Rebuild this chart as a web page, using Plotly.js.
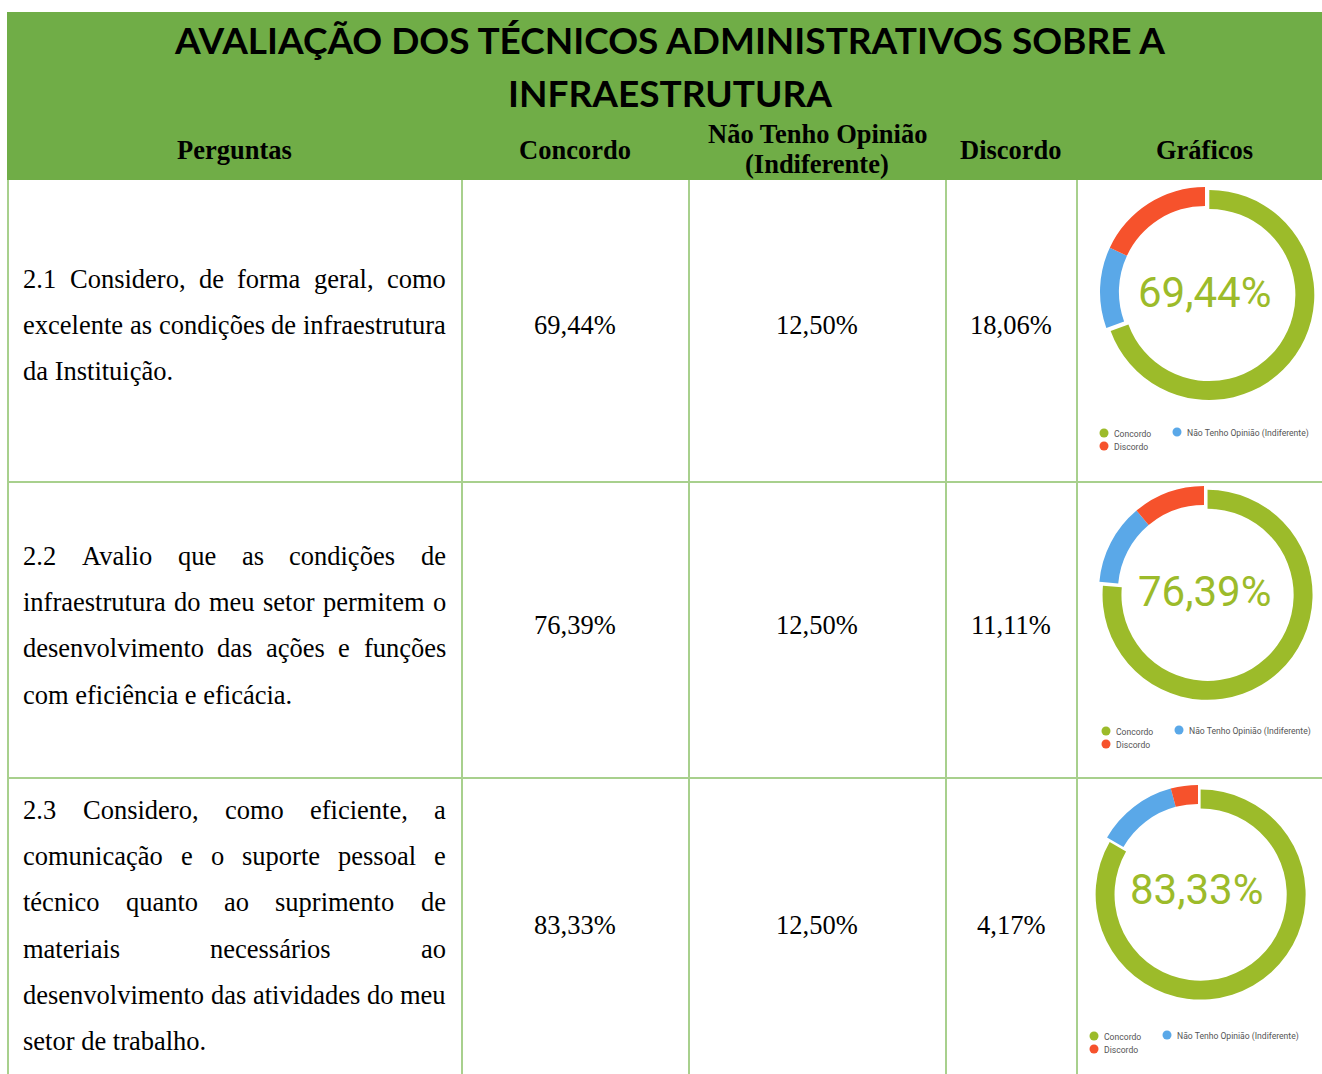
<!DOCTYPE html>
<html><head><meta charset="utf-8">
<script src="https://cdn.plot.ly/plotly-3.0.1.min.js"></script>
<style>html,body{margin:0;padding:0;background:#fff;} #chart{width:1322px;height:1074px;}</style>
</head><body><div id="chart"></div>
<script>
// ---------------- data ----------------
const titleLines = ['AVALIAÇÃO DOS TÉCNICOS ADMINISTRATIVOS SOBRE A', 'INFRAESTRUTURA'];
const headers = ['Perguntas', 'Concordo', 'Não Tenho Opinião<br>(Indiferente)', 'Discordo', 'Gráficos'];
const seriesNames = ['Concordo', 'Não Tenho Opinião (Indiferente)', 'Discordo'];
const questionLines = [
  ['2.1 Considero, de forma geral, como', 'excelente as condições de infraestrutura', 'da Instituição.'],
  ['2.2 Avalio que as condições de', 'infraestrutura do meu setor permitem o', 'desenvolvimento das ações e funções', 'com eficiência e eficácia.'],
  ['2.3 Considero, como eficiente, a', 'comunicação e o suporte pessoal e', 'técnico quanto ao suprimento de', 'materiais necessários ao', 'desenvolvimento das atividades do meu', 'setor de trabalho.']
];
const concordo = [69.44, 76.39, 83.33];
const indiferente = [12.50, 12.50, 12.50];
const discordo = [18.06, 11.11, 4.17];

// ---------------- styles / geometry ----------------
const W = 1322, H = 1074;
const X = px => px / W, Y = py => 1 - py / H;
const seriesColors = ['#9CBB2A', '#5AA8E8', '#F6522C'];
const headerGreen = '#70AD47', gridGreen = '#A8D08D';
const serif = "'Liberation Serif', 'Times New Roman', serif";
const bodySize = 26.5;
const colLines = [8, 462, 689, 946, 1077];
const rowLines = [482, 778];
const headerCx = [235, 575, 817, 1011, 1204];
const valueCy = [325, 625, 925];
const qFirstY = [279, 556, 810], qStep = 46.2, qLeft = 23, qRight = 446;
const donutC = [[1205, 292], [1204, 591], [1198, 890]], donutR = 105, pullF = 0.05;
const centerTextPos = [[1204, 292], [1204, 591], [1196, 889]];
const legendPos = [[1104, 433], [1106, 731], [1094, 1036]];
const fmt = v => v.toFixed(2).replace('.', ',') + '%';

const ctx = document.createElement('canvas').getContext('2d');
function measure(t, size, fam, weight) { ctx.font = (weight || 'normal') + ' ' + size + 'px ' + fam; return ctx.measureText(t).width; }

const shapes = [], annotations = [];
// header band
shapes.push({type: 'rect', xref: 'paper', yref: 'paper', x0: X(7), x1: X(1322), y0: Y(180), y1: Y(12), fillcolor: headerGreen, line: {width: 0}, layer: 'below'});
colLines.forEach(cx => shapes.push({type: 'line', xref: 'paper', yref: 'paper', x0: X(cx), x1: X(cx), y0: Y(180), y1: Y(1074), line: {color: gridGreen, width: 2}}));
rowLines.forEach(ry => shapes.push({type: 'line', xref: 'paper', yref: 'paper', x0: X(8), x1: X(1322), y0: Y(ry), y1: Y(ry), line: {color: gridGreen, width: 2}}));

// title
const titleFont = {family: 'Lato, sans-serif', size: 37, color: '#000', weight: 700};
annotations.push({text: '<b>' + titleLines[0] + '</b>', x: X(670), y: Y(40), xref: 'paper', yref: 'paper', showarrow: false, xanchor: 'center', yanchor: 'middle', font: titleFont});
annotations.push({text: '<b>' + titleLines[1] + '</b>', x: X(670), y: Y(93), xref: 'paper', yref: 'paper', showarrow: false, xanchor: 'center', yanchor: 'middle', font: titleFont});

// column headers
const hFont = {family: serif, size: bodySize, color: '#000'};
headers.forEach((h, i) => {
  const parts = h.split('<br>');
  const ys = parts.length === 1 ? [150] : [134, 164];
  parts.forEach((p, k) => annotations.push({text: '<b>' + p + '</b>', x: X(headerCx[i]), y: Y(ys[k]), xref: 'paper', yref: 'paper', showarrow: false, xanchor: 'center', yanchor: 'middle', font: hFont}));
});

// question texts (justified)
const bFont = {family: serif, size: bodySize, color: '#000'};
questionLines.forEach((lines, q) => {
  lines.forEach((line, li) => {
    const y = Y(qFirstY[q] + li * qStep);
    const words = line.split(' ');
    if (li === lines.length - 1 || words.length < 2) {
      annotations.push({text: line, x: X(qLeft - 2), y, xref: 'paper', yref: 'paper', showarrow: false, xanchor: 'left', yanchor: 'middle', font: bFont});
    } else {
      const ws = words.map(w => measure(w, bodySize, serif));
      const sum = ws.reduce((a, b) => a + b, 0);
      const gap = (qRight - qLeft - sum) / (words.length - 1);
      let xx = qLeft;
      words.forEach((w, k) => {
        annotations.push({text: w, x: X(xx - 2), y, xref: 'paper', yref: 'paper', showarrow: false, xanchor: 'left', yanchor: 'middle', font: bFont});
        xx += ws[k] + gap;
      });
    }
  });
});

// values
[concordo, indiferente, discordo].forEach((arr, c) => {
  arr.forEach((v, r) => annotations.push({text: fmt(v), x: X(headerCx[c + 1]), y: Y(valueCy[r]), xref: 'paper', yref: 'paper', showarrow: false, xanchor: 'center', yanchor: 'middle', font: bFont}));
});

// donut centre labels
concordo.forEach((c, i) => {
  const [tx, ty] = centerTextPos[i];
  annotations.push({text: fmt(c), x: X(tx), y: Y(ty), xref: 'paper', yref: 'paper', showarrow: false, xanchor: 'center', yanchor: 'middle', font: {family: 'Roboto, sans-serif', size: 42, color: seriesColors[0]}});
});

// legends (custom, per chart)
const legFont = {family: 'Roboto, sans-serif', size: 8.6, color: '#555'};
legendPos.forEach(([lx, ly]) => {
  const items = [[lx, ly], [lx + 73, ly - 1], [lx, ly + 13]];
  items.forEach(([dx, dy], k) => {
    shapes.push({type: 'circle', xref: 'paper', yref: 'paper', xsizemode: 'pixel', ysizemode: 'pixel', xanchor: X(dx), yanchor: Y(dy), x0: -4.5, x1: 4.5, y0: -4.5, y1: 4.5, fillcolor: seriesColors[k], line: {width: 0}});
    annotations.push({text: seriesNames[k], x: X(dx + 8), y: Y(dy + 1), xref: 'paper', yref: 'paper', showarrow: false, xanchor: 'left', yanchor: 'middle', font: legFont});
  });
});

// donuts
const side = 2 * donutR * (1 + pullF);
const traces = concordo.map((c, i) => {
  const [cx, cy] = donutC[i];
  return {
    type: 'pie', values: [c, indiferente[i], discordo[i]], labels: seriesNames,
    marker: {colors: seriesColors, line: {width: 0}},
    hole: 0.82, sort: false, direction: 'clockwise', rotation: 0, pull: [pullF, 0, 0],
    textinfo: 'none', hoverinfo: 'label+value', showlegend: false,
    domain: {x: [X(cx - side / 2), X(cx + side / 2)], y: [Y(cy + side / 2), Y(cy - side / 2)]}
  };
});

const layout = {
  width: W, height: H, margin: {l: 0, r: 0, t: 0, b: 0},
  paper_bgcolor: '#fff', plot_bgcolor: '#fff', showlegend: false,
  shapes, annotations
};
Plotly.newPlot('chart', traces, layout, {displayModeBar: false, staticPlot: true});
</script>
</body></html>
